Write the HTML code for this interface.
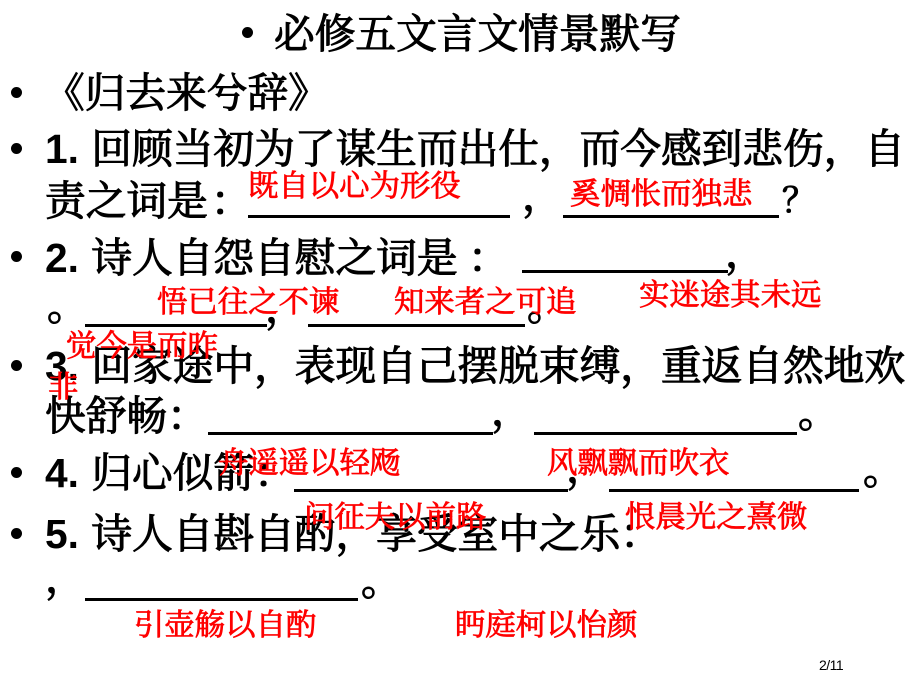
<!DOCTYPE html>
<html lang="zh"><head><meta charset="utf-8"><style>
html,body{margin:0;padding:0;background:#fff}
#p{position:relative;width:920px;height:690px;overflow:hidden;background:#fff}
.t{position:absolute;white-space:nowrap;margin-top:-2px;font:400 40.7px/48px "Noto Serif CJK SC",serif;color:#000;-webkit-text-stroke:1.1px #000}
.t b{font:700 40.7px/48px "Liberation Sans",sans-serif;-webkit-text-stroke:0;margin-right:2px}
.r{position:absolute;white-space:nowrap;margin-top:-2px;font:400 30.4px/36px "Noto Serif CJK SC",serif;color:#f00;-webkit-text-stroke:.8px #f00}
.u{position:absolute;height:3px;background:#000}
.b{position:absolute;width:11px;height:11px;border-radius:50%;background:#000}
.s{position:absolute;left:819px;top:656px;font:14px/18px "Liberation Sans",sans-serif;color:#000;letter-spacing:-.5px}
</style></head><body><div id="p">
<div class="b" style="left:242px;top:27px"></div>
<div class="t" style="left:274px;top:9px">必修五文言文情景默写</div>
<div class="b" style="left:11px;top:87px"></div>
<div class="t" style="left:44px;top:68px">《归去来兮辞》</div>
<div class="b" style="left:11px;top:143px"></div>
<div class="t" style="left:45px;top:124px"><b>1.</b> 回顾当初为了谋生而出仕&#65292;而今感到悲伤&#65292;自</div>
<div class="t" style="left:45px;top:176px">责之词是<span style="margin-left:3px">&#65306;</span></div>
<div class="u" style="left:248px;top:215px;width:262px"></div>
<div class="t" style="left:522px;top:171px">&#65292;</div>
<div class="u" style="left:563px;top:215px;width:216px"></div>
<div class="t" style="left:782px;top:176px;font-size:34px">&#65311;</div>
<div class="b" style="left:11px;top:251px"></div>
<div class="t" style="left:45px;top:233px"><b>2.</b> 诗人自怨自慰之词是 &#65306;</div>
<div class="u" style="left:522px;top:270px;width:206px"></div>
<div class="t" style="left:725px;top:228px">&#65292;</div>
<div class="t" style="left:47px;top:281px">&#12290;</div>
<div class="u" style="left:85px;top:324px;width:182px"></div>
<div class="t" style="left:265px;top:283px">&#65292;</div>
<div class="u" style="left:308px;top:324px;width:217px"></div>
<div class="t" style="left:527px;top:281px">&#12290;</div>
<div class="b" style="left:11px;top:360px"></div>
<div class="t" style="left:45px;top:341px"><b>3.</b> 回家途中&#65292;表现自己摆脱束缚&#65292;重返自然地欢</div>
<div class="t" style="left:45px;top:391px">快舒畅&#65306;</div>
<div class="u" style="left:208px;top:432px;width:285px"></div>
<div class="t" style="left:491px;top:386px">&#65292;</div>
<div class="u" style="left:534px;top:432px;width:263px"></div>
<div class="t" style="left:798px;top:388px">&#12290;</div>
<div class="b" style="left:11px;top:467px"></div>
<div class="t" style="left:45px;top:448px"><b>4.</b> 归心似箭&#65306;</div>
<div class="u" style="left:294px;top:489px;width:274px"></div>
<div class="t" style="left:566px;top:443px">&#65292;</div>
<div class="u" style="left:609px;top:489px;width:250px"></div>
<div class="t" style="left:863px;top:445px">&#12290;</div>
<div class="b" style="left:11px;top:528px"></div>
<div class="t" style="left:45px;top:509px"><b>5.</b> 诗人自斟自酌&#65292;享受室中之乐&#65306;</div>
<div class="t" style="left:45px;top:553px">&#65292;</div>
<div class="u" style="left:85px;top:598px;width:273px"></div>
<div class="t" style="left:361px;top:556px">&#12290;</div>
<div class="r" style="left:248px;top:167px">既自以心为形役</div>
<div class="r" style="left:570px;top:175px">奚惆怅而独悲</div>
<div class="r" style="left:157px;top:283px">悟已往之不谏</div>
<div class="r" style="left:394px;top:283px">知来者之可追</div>
<div class="r" style="left:639px;top:276px">实迷途其未远</div>
<div class="r" style="left:66px;top:327px">觉今是而昨</div>
<div class="r" style="left:48px;top:368px">非</div>
<div class="r" style="left:218px;top:444px">舟遥遥以轻飏</div>
<div class="r" style="left:547px;top:444px">风飘飘而吹衣</div>
<div class="r" style="left:304px;top:498px">问征夫以前路</div>
<div class="r" style="left:625px;top:498px">恨晨光之熹微</div>
<div class="r" style="left:134px;top:606px">引壶觞以自酌</div>
<div class="r" style="left:455px;top:606px">眄庭柯以怡颜</div>
<div class="s">2/11</div>
</div></body></html>
